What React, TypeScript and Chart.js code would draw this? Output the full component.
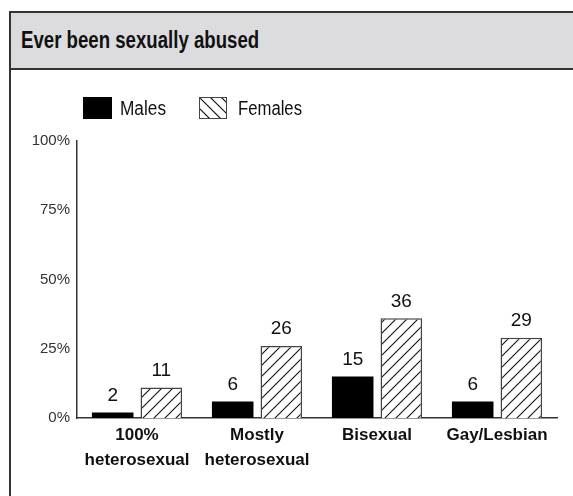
import React, { useEffect, useRef } from "react";
import { Chart, registerables } from "chart.js";

Chart.register(...registerables);

const categories: (string | string[])[] = [
  ["100%", "heterosexual"],
  ["Mostly", "heterosexual"],
  "Bisexual",
  "Gay/Lesbian",
];
const males = [2, 6, 15, 6];
const females = [11, 26, 36, 29];
const yTicks = [0, 25, 50, 75, 100];
const seriesNames = ["Males", "Females"];
const titleText = "Ever been sexually abused";

function makeHatch(ctx: CanvasRenderingContext2D): CanvasPattern | string {
  const s = 11;
  const c = document.createElement("canvas");
  c.width = s;
  c.height = s;
  const g = c.getContext("2d");
  if (!g) return "#fff";
  g.fillStyle = "#fff";
  g.fillRect(0, 0, s, s);
  g.strokeStyle = "#111";
  g.lineWidth = 1.1;
  g.beginPath();
  g.moveTo(-1, s + 1);
  g.lineTo(s + 1, -1);
  g.moveTo(-1, 1);
  g.lineTo(1, -1);
  g.moveTo(s - 1, s + 1);
  g.lineTo(s + 1, s - 1);
  g.stroke();
  return ctx.createPattern(c, "repeat") || "#fff";
}

const legendPlugin = {
  id: "customLegend",
  afterDraw(chart: any) {
    const ctx = chart.ctx as CanvasRenderingContext2D;
    const x0 = chart.scales.x.left;
    const cy = 108;
    ctx.save();
    ctx.fillStyle = "#000";
    ctx.fillRect(x0 + 6, cy - 11, 29, 22);
    ctx.font = "20px 'Liberation Sans', sans-serif";
    ctx.fillStyle = "#111";
    ctx.textBaseline = "middle";
    ctx.textAlign = "left";
    ctx.fillText(seriesNames[0], x0 + 43, cy + 1, 46);
    const fx = x0 + 122;
    const fy = cy - 11;
    const w = 28;
    const h = 22;
    ctx.fillStyle = "#fff";
    ctx.fillRect(fx, fy, w, h);
    ctx.save();
    ctx.beginPath();
    ctx.rect(fx, fy, w, h);
    ctx.clip();
    ctx.strokeStyle = "#111";
    ctx.lineWidth = 1.1;
    ctx.beginPath();
    for (let k = -2; k <= 4; k++) {
      const sx = fx + k * 11;
      ctx.moveTo(sx, fy);
      ctx.lineTo(sx + h, fy + h);
    }
    ctx.stroke();
    ctx.restore();
    ctx.strokeStyle = "#444";
    ctx.lineWidth = 1;
    ctx.strokeRect(fx + 0.5, fy + 0.5, w - 1, h - 1);
    ctx.fillStyle = "#111";
    ctx.fillText(seriesNames[1], x0 + 161, cy + 1, 64);
    ctx.restore();
  },
};

const valueLabelPlugin = {
  id: "valueLabels",
  afterDatasetsDraw(chart: any) {
    const ctx = chart.ctx as CanvasRenderingContext2D;
    ctx.save();
    ctx.font = "19px 'Liberation Sans', sans-serif";
    ctx.fillStyle = "#111";
    ctx.textAlign = "center";
    ctx.textBaseline = "middle";
    chart.data.datasets.forEach((ds: any, i: number) => {
      const meta = chart.getDatasetMeta(i);
      meta.data.forEach((bar: any, j: number) => {
        ctx.fillText(String(ds.data[j]), bar.x, bar.y - 17);
      });
    });
    ctx.restore();
  },
};

export default function App() {
  const ref = useRef<HTMLCanvasElement | null>(null);
  useEffect(() => {
    const canvas = ref.current;
    if (!canvas) return;
    const ctx = canvas.getContext("2d");
    if (!ctx) return;
    const hatch = makeHatch(ctx);
    const chart = new Chart(canvas, {
      type: "bar",
      data: {
        labels: categories,
        datasets: [
          {
            label: seriesNames[0],
            data: males,
            backgroundColor: "#000",
            borderWidth: 0,
            categoryPercentage: 0.81,
            barPercentage: 0.855,
          },
          {
            label: seriesNames[1],
            data: females,
            backgroundColor: hatch as any,
            borderColor: "#444",
            borderWidth: 1.5,
            categoryPercentage: 0.81,
            barPercentage: 0.855,
          },
        ],
      },
      options: {
        responsive: false,
        animation: false,
        layout: { padding: { left: 0, right: 16, top: 141, bottom: 0 } },
        plugins: {
          legend: { display: false },
          tooltip: { enabled: false },
          title: { display: false },
        },
        scales: {
          x: {
            grid: { display: false, drawTicks: false },
            border: { display: true, color: "#333", width: 1.5 },
            ticks: {
              color: "#111",
              padding: 5,
              maxRotation: 0,
              autoSkip: false,
              font: {
                family: "'Liberation Sans', Arial, sans-serif",
                size: 17,
                weight: "bold",
                lineHeight: "25px",
              },
            },
            afterFit(scale: any) {
              scale.height = 78;
            },
          },
          y: {
            min: 0,
            max: 100,
            grid: { display: false, drawTicks: false },
            border: { display: true, color: "#333", width: 1.5 },
            afterBuildTicks(scale: any) {
              scale.ticks = yTicks.map((v) => ({ value: v }));
            },
            ticks: {
              color: "#333",
              padding: 7,
              font: { family: "'Liberation Sans', Arial, sans-serif", size: 15 },
              callback: (v: any) => v + "%",
            },
            afterFit(scale: any) {
              scale.width = 77;
            },
          },
        },
      },
      plugins: [legendPlugin, valueLabelPlugin],
    });
    return () => chart.destroy();
  }, []);

  return (
    <div>
      <div
        style={{
          position: "absolute",
          left: 9,
          top: 11,
          width: 620,
          height: 560,
          borderLeft: "2px solid #333",
          borderTop: "2px solid #333",
          background: "#fff",
          boxSizing: "border-box",
        }}
      >
        <div
          style={{
            height: 57,
            background: "#dcdcde",
            borderBottom: "2px solid #333",
            boxSizing: "border-box",
            display: "flex",
            alignItems: "center",
            paddingLeft: 10,
          }}
        >
          <span
            style={{
              display: "inline-block",
              fontFamily: "'Liberation Sans', Arial, sans-serif",
              fontWeight: "bold",
              fontSize: 23,
              color: "#111",
              transform: "scaleX(0.81)",
              transformOrigin: "left center",
              whiteSpace: "nowrap",
            }}
          >
            {titleText}
          </span>
        </div>
      </div>
      <canvas
        ref={ref}
        width={573}
        height={496}
        style={{ position: "absolute", left: 0, top: 0, width: 573, height: 496, zIndex: 1 }}
      />
    </div>
  );
}
